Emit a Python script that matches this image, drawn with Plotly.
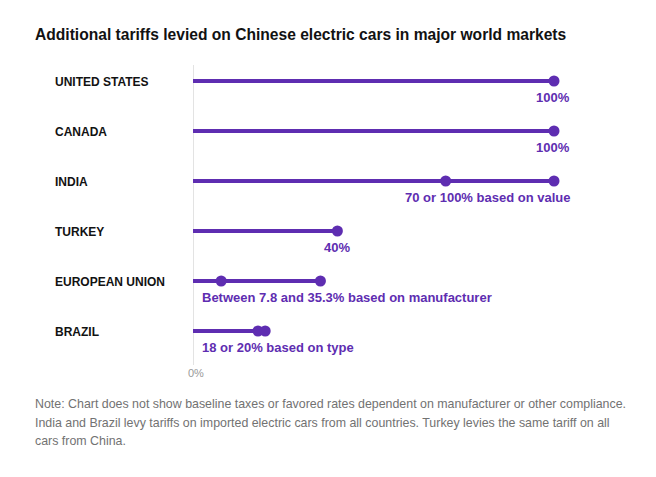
import plotly.graph_objects as go

countries = ["UNITED STATES", "CANADA", "INDIA", "TURKEY", "EUROPEAN UNION", "BRAZIL"]
tariff_low = [100, 100, 70, 40, 7.8, 18]
tariff_high = [100, 100, 100, 40, 35.3, 20]
value_labels = ["100%", "100%", "70 or 100% based on value", "40%",
                "Between 7.8 and 35.3% based on manufacturer", "18 or 20% based on type"]
label_align = ["right", "right", "right", "center", "left", "left"]

title = "Additional tariffs levied on Chinese electric cars in major world markets"
note_lines = [
    "Note: Chart does not show baseline taxes or favored rates dependent on manufacturer or other compliance.",
    "India and Brazil levy tariffs on imported electric cars from all countries. Turkey levies the same tariff on all",
    "cars from China.",
]

PURPLE = "#5e2db1"
OFF = 8  # page body margin
W, H = 656 - OFF, 477 - OFF
ML, MT = 193 - OFF, 65 - OFF
PW, PH = 361, 300
MR = W - ML - PW
MB = H - MT - PH

def px_to_paper_x(px):
    return (px - OFF - ML) / PW

def px_to_paper_y(py):
    return 1 - (py - OFF - MT) / PH

fig = go.Figure()

lx, ly = [], []
mx, my = [], []
for i, (lo, hi) in enumerate(zip(tariff_low, tariff_high)):
    lx += [0, hi, None]
    ly += [i, i, None]
    for v in sorted(set([lo, hi])):
        mx.append(v)
        my.append(i)

fig.add_trace(go.Scatter(x=lx, y=ly, mode="lines",
                         line=dict(color=PURPLE, width=4), hoverinfo="skip",
                         cliponaxis=False, showlegend=False))
fig.add_trace(go.Scatter(x=mx, y=my, mode="markers",
                         marker=dict(color=PURPLE, size=11), cliponaxis=False,
                         showlegend=False))

# vertical baseline
fig.add_shape(type="line", x0=0, x1=0, xref="x", yref="paper", y0=0, y1=1,
              line=dict(color="#c8c8c8", width=1), layer="below")

annotations = []
for i, c in enumerate(countries):
    annotations.append(dict(text="<b>%s</b>" % c, x=px_to_paper_x(53), xref="paper", y=i, yref="y",
                            yshift=-1, xanchor="left", yanchor="middle", showarrow=False,
                            font=dict(family="Liberation Sans", size=12, color="#121212")))
    al = label_align[i]
    if al == "right":
        ax, xa, xs = tariff_high[i], "right", 18
    elif al == "center":
        ax, xa, xs = tariff_high[i], "center", 0
    else:
        ax, xa, xs = 0, "left", 7
    annotations.append(dict(text="<b>%s</b>" % value_labels[i], x=ax, xref="x", xshift=xs,
                            y=i, yref="y", yshift=-16, xanchor=xa, yanchor="middle",
                            showarrow=False,
                            font=dict(family="Liberation Sans", size=13, color=PURPLE)))

annotations.append(dict(text="<b>%s</b>" % title, x=px_to_paper_x(33), xref="paper",
                        y=px_to_paper_y(34), yref="paper", xanchor="left", yanchor="middle",
                        showarrow=False,
                        font=dict(family="Liberation Sans", size=15.6, color="#121212")))

for k, line in enumerate(note_lines):
    annotations.append(dict(text=line, x=px_to_paper_x(33), xref="paper",
                            y=px_to_paper_y(404 + 18.5 * k), yref="paper",
                            xanchor="left", yanchor="middle", showarrow=False,
                            font=dict(family="Liberation Sans", size=12.4, color="#727272")))

annotations.append(dict(text="0%", x=0, xref="x", xshift=3, y=px_to_paper_y(373), yref="paper",
                        xanchor="center", yanchor="middle", showarrow=False,
                        font=dict(family="Liberation Sans", size=11, color="#999999")))

fig.update_layout(
    width=W, height=H,
    margin=dict(l=ML, r=MR, t=MT, b=MB),
    paper_bgcolor="white", plot_bgcolor="white",
    xaxis=dict(range=[0, 100], showgrid=False, zeroline=False, showticklabels=False,
               showline=False, fixedrange=True),
    yaxis=dict(range=[5.68, -0.32], showgrid=False, zeroline=False, showticklabels=False,
               showline=False, fixedrange=True),
    annotations=annotations,
    showlegend=False,
)

fig.write_html("out.html")
